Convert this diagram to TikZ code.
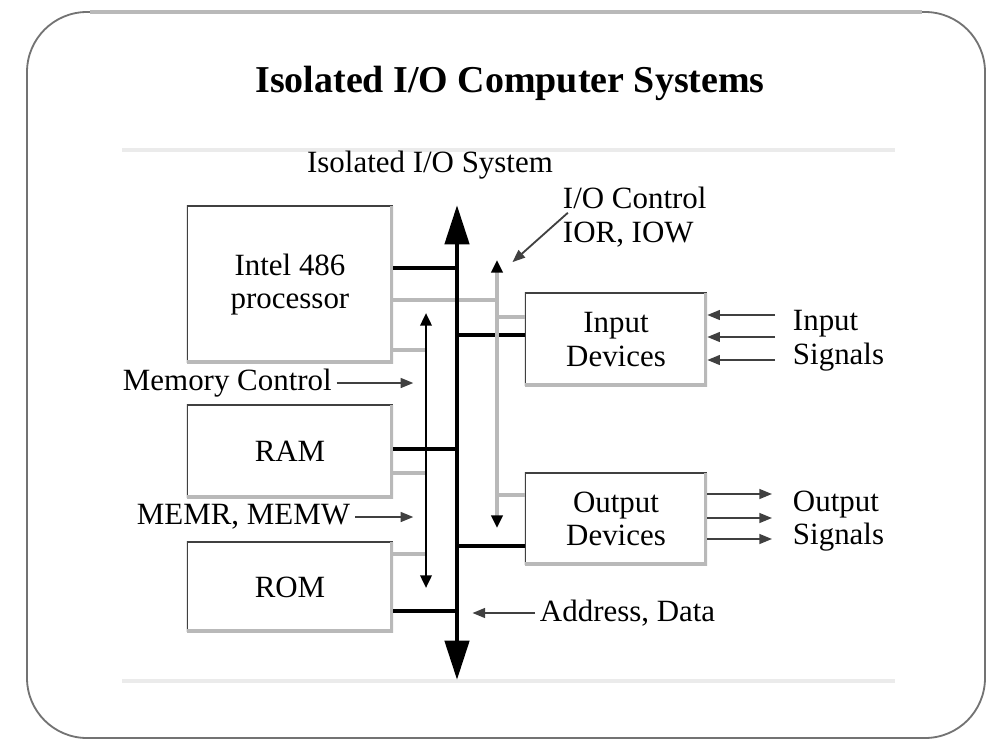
\documentclass[tikz,border=0pt]{standalone}
\usepackage{fontspec}
\setmainfont{Liberation Serif}
\usetikzlibrary{arrows.meta}
\tikzset{
  unitbox/.style = {shape = rectangle, inner sep = 0pt, align = center,
    path picture = {
      \draw[black!75, line width = 2pt] (path picture bounding box.south west) -- (path picture bounding box.north west) -- (path picture bounding box.north east);
      \draw[gray!55, line width = 4.5pt] (path picture bounding box.north east) -- (path picture bounding box.south east) -- (path picture bounding box.south west);
    }},
  stub/.style = {line width = 2.4pt, black},
  ctrl/.style = {line width = 2.2pt, gray!55},
  sig/.style = {line width = 1.3pt, black!75, -{Triangle[length = 9pt, width = 7pt]}},
}
\begin{document}
\begin{tikzpicture}[x = 0.025cm, y = -0.025cm, every node/.style = {font = \fontsize{22}{24}\selectfont}]
  \useasboundingbox (0,0) rectangle (990,742);
  \draw[black!55, line width = 1.3pt, rounded corners = 1.5cm] (27,12) rectangle (985,738);
  \draw[gray!55, line width = 3pt] (90,12) -- (922,12);
  \draw[black!8, line width = 3pt] (122,150) -- (895,150);
  \draw[black!8, line width = 3pt] (122,681) -- (895,681);

  \node(title) at (510,83) {\fontsize{27}{30}\selectfont\bfseries Isolated I/O Computer Systems};
  \node(sys) at (430,165) {Isolated I/O System};

  \node[unitbox, minimum width = 5.15cm, minimum height = 3.925cm](proc) at (290,284.5) {Intel 486\\processor};
  \node[unitbox, minimum width = 5.15cm, minimum height = 2.325cm](ram) at (290,451.5) {RAM};
  \node[unitbox, minimum width = 5.15cm, minimum height = 2.25cm](rom) at (290,587) {ROM};
  \node[unitbox, minimum width = 4.55cm, minimum height = 2.325cm](indev) at (616,339.5) {Input\\Devices};
  \node[unitbox, minimum width = 4.55cm, minimum height = 2.3cm](outdev) at (616,519) {Output\\Devices};

  \node[anchor = west](memctl) at (118,383) {Memory Control};
  \node[anchor = east](memrw) at (355,517) {MEMR, MEMW};
  \node[anchor = west](addr) at (535,613) {Address, Data};
  \node[anchor = west, align = left](ioctl) at (558,217) {I/O Control\\IOR, IOW};
  \node[anchor = west, align = left](insig) at (788,341) {Input\\Signals};
  \node[anchor = west, align = left](outsig) at (788,521) {Output\\Signals};

  \coordinate (bustop) at (457,205);
  \coordinate (busbot) at (457,680);
  \coordinate (memtop) at (426,313);
  \coordinate (membot) at (426,588);
  \coordinate (iotop) at (497,260);
  \coordinate (iobot) at (497,528);

  \draw[ctrl] (proc.east |- 0,300) -- (iotop |- 0,300);
  \draw[ctrl] (proc.east |- 0,350) -- (memtop |- 0,350);
  \draw[ctrl] (ram.east |- 0,473) -- (memtop |- 0,473);
  \draw[ctrl] (rom.east |- 0,554) -- (memtop |- 0,554);
  \draw[ctrl] (iotop |- 0,317) -- (indev.west |- 0,317);
  \draw[ctrl] (iotop |- 0,495) -- (outdev.west |- 0,495);

  \draw[stub] (proc.east |- 0,268) -- (bustop |- 0,268);
  \draw[stub] (ram.east |- 0,449) -- (bustop |- 0,449);
  \draw[stub] (rom.east |- 0,611) -- (bustop |- 0,611);
  \draw[stub] (bustop |- 0,335) -- (indev.west |- 0,335);
  \draw[stub] (bustop |- 0,546) -- (outdev.west |- 0,546);

  \draw[line width = 1.9pt, {Triangle[length = 9pt, width = 8pt]}-{Triangle[length = 9pt, width = 8pt]}] (memtop) -- (membot);
  \draw[ctrl, {Triangle[length = 9pt, width = 8pt, color = black]}-{Triangle[length = 9pt, width = 8pt, color = black]}] (iotop) -- (iobot);
  \draw[line width = 3.5pt, {Triangle[length = 28pt, width = 17pt]}-{Triangle[length = 28pt, width = 17pt]}] (bustop) -- (busbot);

  \draw[sig] (memctl.east) -- ([xshift = -9pt]memtop |- memctl.east);
  \draw[sig] (memrw.east) -- ([xshift = -9pt]memtop |- memrw.east);
  \draw[sig] (addr.west) -- ([xshift = 11pt]bustop |- addr.west);
  \draw[sig] ([xshift = 7pt, yshift = 3pt]ioctl.west) -- ([xshift = 11pt, yshift = -1.5pt]iotop);

  \foreach \i/\y in {1/315, 2/337, 3/360} {
    \coordinate (in\i) at (775,\y);
    \draw[sig] (in\i) -- (indev.east |- in\i);
  }
  \foreach \i/\y in {1/494, 2/518, 3/539} {
    \coordinate (out\i) at (772,\y);
    \draw[sig] (outdev.east |- out\i) -- (out\i);
  }
\end{tikzpicture}
\end{document}
